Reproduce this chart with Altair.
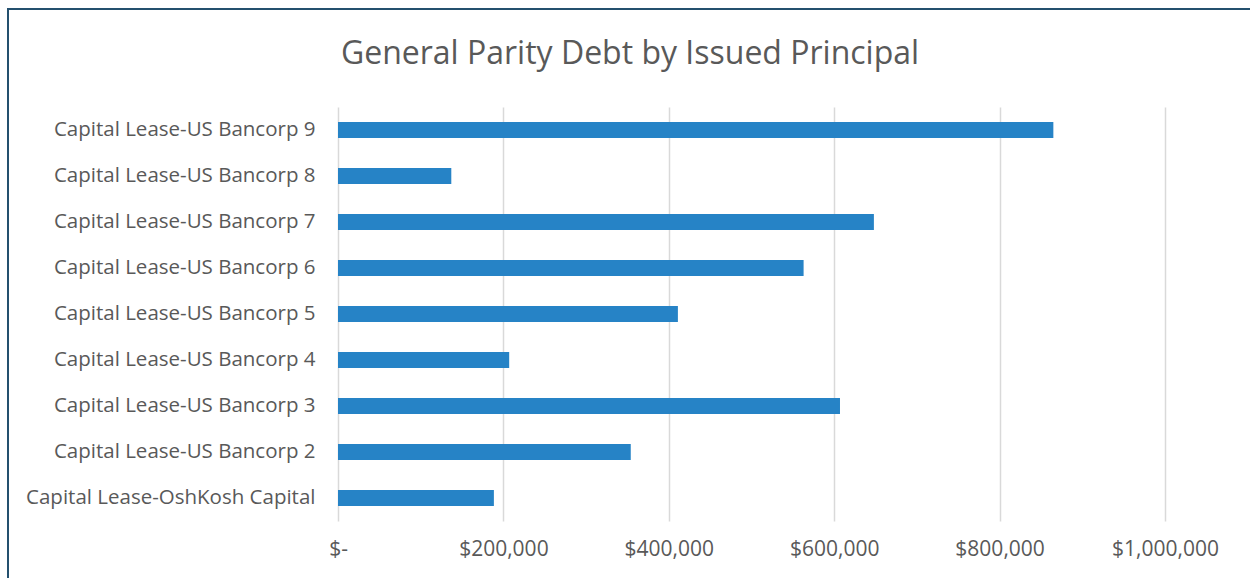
import altair as alt
import pandas as pd

categories = [
    "Capital Lease-US Bancorp 9",
    "Capital Lease-US Bancorp 8",
    "Capital Lease-US Bancorp 7",
    "Capital Lease-US Bancorp 6",
    "Capital Lease-US Bancorp 5",
    "Capital Lease-US Bancorp 4",
    "Capital Lease-US Bancorp 3",
    "Capital Lease-US Bancorp 2",
    "Capital Lease-OshKosh Capital",
]
values = [865000, 137000, 648000, 563000, 411000, 207000, 607000, 354000, 188500]
x_ticks = [0, 200000, 400000, 600000, 800000, 1000000]
title_text = "General Parity Debt by Issued Principal"

df = pd.DataFrame({"name": categories, "amount": values})

FONT = "Open Sans"
GREY = "#595959"

bars = alt.Chart(df).mark_bar(color="#2683C6").encode(
    x=alt.X(
        "amount:Q",
        scale=alt.Scale(domain=[0, 1000000], nice=False, zero=True),
        axis=alt.Axis(
            values=x_ticks,
            labelExpr="datum.value == 0 ? '$-' : '$' + format(datum.value, ',')",
            title=None,
            ticks=False,
            domain=False,
            grid=True,
            gridColor="#D9D9D9",
            gridWidth=1.5,
            labelFont=FONT,
            labelFontSize=21,
            labelColor=GREY,
            labelPadding=17,
            labelFlush=False,
        ),
    ),
    y=alt.Y(
        "name:N",
        sort=categories,
        scale=alt.Scale(paddingInner=0.65, paddingOuter=0.325),
        axis=alt.Axis(
            title=None,
            ticks=False,
            domain=False,
            grid=False,
            labelFont=FONT,
            labelFontSize=20.5,
            labelColor=GREY,
            labelPadding=23,
            labelLimit=400,
        ),
    ),
)

border = alt.Chart(alt.Data(values=[{"a": 1}])).mark_rect(
    fill=None, fillOpacity=0, stroke="#24506E", strokeWidth=2
).encode(
    x=alt.value(-330),
    x2=alt.value(1300),
    y=alt.value(-98),
    y2=alt.value(700),
)

title = alt.Chart(alt.Data(values=[{"t": title_text}])).mark_text(
    font=FONT,
    fontSize=32,
    color=GREY,
    align="center",
    baseline="alphabetic",
).encode(
    text="t:N",
    x=alt.value(292),
    y=alt.value(-43),
)

chart = alt.layer(bars, border, title).properties(
    width=827,
    height=414,
    autosize=alt.AutoSizeParams(type="none"),
    padding={"left": 338, "top": 107, "right": 85, "bottom": 57},
    background="white",
).configure_view(stroke=None)

chart.save("out.html", embed_options={"renderer": "svg", "actions": False})
